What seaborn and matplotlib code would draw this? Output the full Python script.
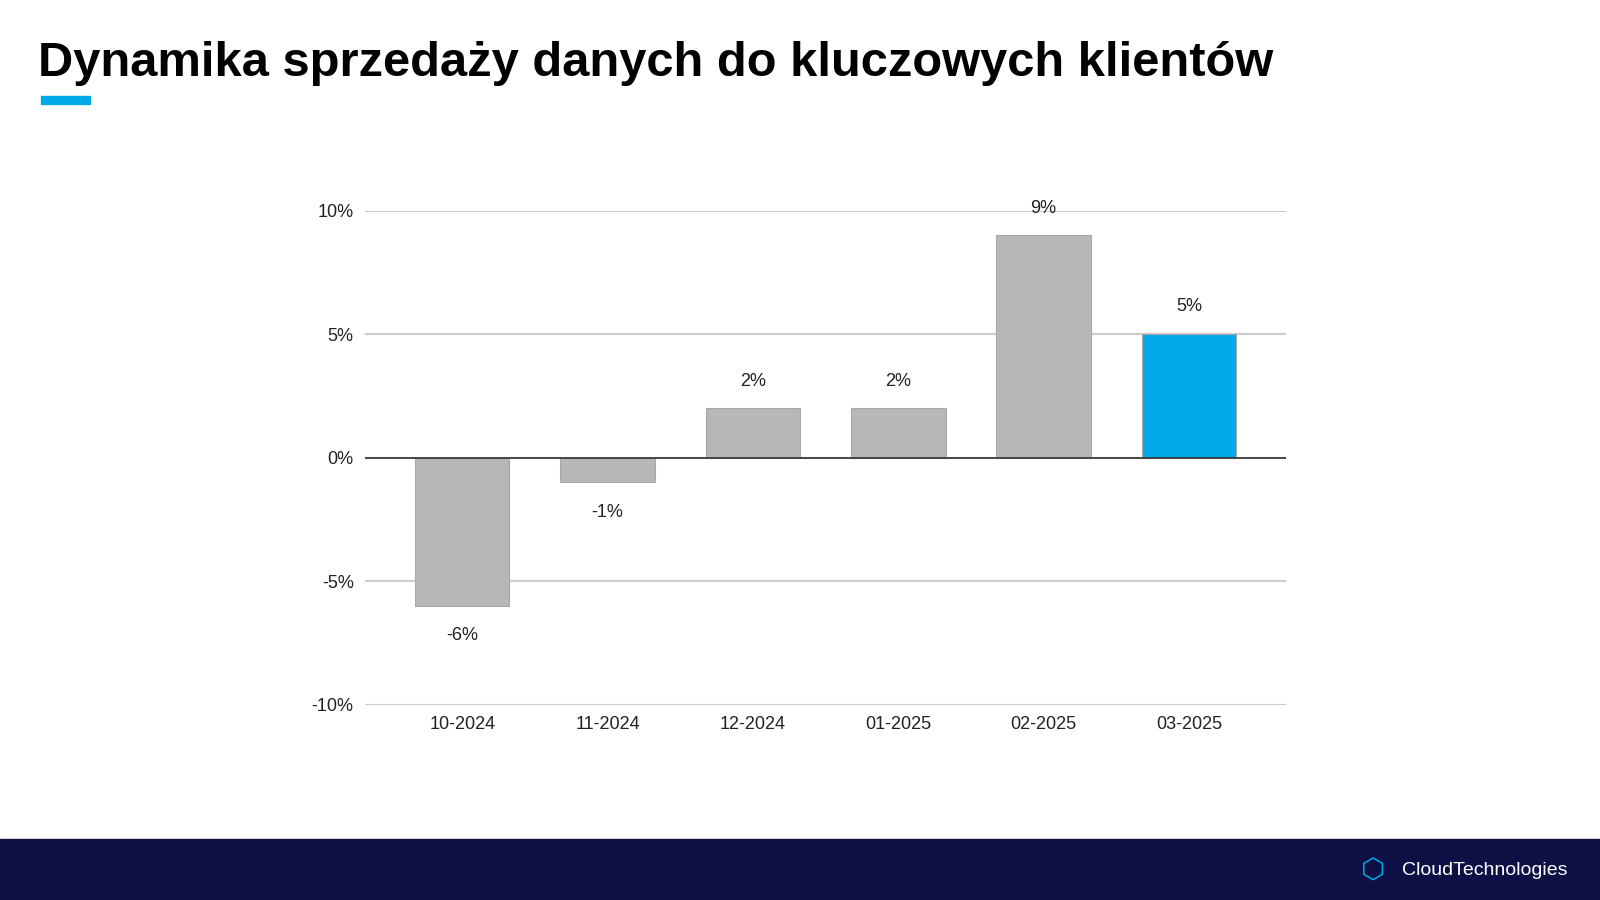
import matplotlib
matplotlib.use("Agg")
import matplotlib.pyplot as plt
import seaborn as sns
import pandas as pd
from matplotlib.patches import Rectangle

plt.rcParams["font.family"] = "Liberation Sans"

months = ["10-2024", "11-2024", "12-2024", "01-2025", "02-2025", "03-2025"]
values = [-6, -1, 2, 2, 9, 5]
yticks = [-10, -5, 0, 5, 10]
title = "Dynamika sprzedaży danych do kluczowych klientów"

df = pd.DataFrame({"month": months, "value": values})
colors = ["#b7b7b7"] * 5 + ["#00aaea"]

fig = plt.figure(figsize=(16, 9), dpi=100)
fig.patch.set_facecolor("white")
ax = fig.add_axes([0.228, 0.217, 0.576, 0.549])
sns.barplot(data=df, x="month", y="value", hue="month", palette=colors, legend=False,
            width=0.65, ax=ax, edgecolor="#a8a8a8", linewidth=0.8, zorder=3, saturation=1)
ax.set_ylim(-10, 10)
ax.set_xlim(-0.67, 5.67)
ax.set_yticks(yticks)
ax.set_yticklabels([f"{t}%" for t in yticks])
ax.grid(axis="y", color="#cccccc", linewidth=1.5, zorder=0)
ax.axhline(0, color="#333333", linewidth=1.2, zorder=4)
for s in ax.spines.values():
    s.set_visible(False)
ax.tick_params(length=0, labelsize=13, colors="#222222", pad=8)
ax.set_xlabel("")
ax.set_ylabel("")
for i, v in enumerate(values):
    off = 1.1 if v > 0 else -1.2
    ax.text(i, v + off, f"{v}%", ha="center", va="center", fontsize=13, color="#222222")

fig.text(0.024, 0.929, title, fontsize=35.2, fontweight="bold", va="center", ha="left", color="black")
fig.add_artist(Rectangle((0.0255, 0.884), 0.031, 0.009, transform=fig.transFigure, color="#00a9e8"))
fig.add_artist(Rectangle((0, 0), 1, 0.068, transform=fig.transFigure, color="#0c1045"))
fig.text(0.876, 0.033, "CloudTechnologies", fontsize=14, color="white", va="center", ha="left")
fig.text(0.858, 0.033, "⬡", fontsize=20, color="#00a9e8", va="center", ha="center",
         fontfamily="DejaVu Sans")
fig.savefig("out.png", dpi=100)
